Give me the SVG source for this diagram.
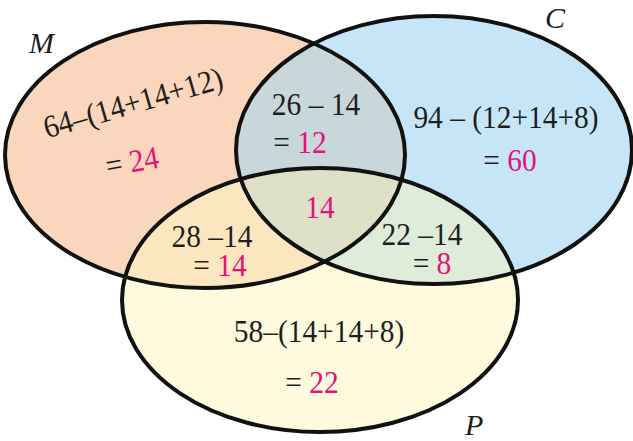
<svg xmlns="http://www.w3.org/2000/svg" width="633" height="441" viewBox="0 0 633 441">
<style>
.t{font-family:"Liberation Serif","Times New Roman",serif;font-size:32px;fill:#1e1e1e;text-anchor:middle}
.p{fill:#E2127B}
.lab{font-family:"Liberation Serif","Times New Roman",serif;font-size:30px;font-style:italic;fill:#1e1e1e}
.o{fill:none;stroke:#111;stroke-width:4}
</style>
<defs>
<ellipse id="eM" cx="205" cy="155" rx="200" ry="133"/>
<ellipse id="eC" cx="434" cy="150" rx="198" ry="134"/>
<ellipse id="eP" cx="320" cy="300" rx="198" ry="132"/>
<clipPath id="cM"><use href="#eM"/></clipPath>
<clipPath id="cC"><use href="#eC"/></clipPath>
</defs>
<rect width="633" height="441" fill="#fff"/>
<g id="fills">
<use href="#eM" fill="#F9D6BC"/>
<use href="#eC" fill="#C6E6F8"/>
<use href="#eP" fill="#FEFADE"/>
<use href="#eC" fill="#C8D7D9" clip-path="url(#cM)"/>
<use href="#eP" fill="#FCE6C0" clip-path="url(#cM)"/>
<use href="#eP" fill="#DFECDA" clip-path="url(#cC)"/>
<g clip-path="url(#cM)"><use href="#eP" fill="#DEE0C8" clip-path="url(#cC)"/></g>
</g>
<g id="outlines">
<use href="#eM" class="o"/>
<use href="#eC" class="o"/>
<use href="#eP" class="o"/>
</g>
<g id="setM">
<text class="lab" x="29" y="53">M</text>
<text class="t" transform="translate(136,113) rotate(-16) scale(0.92,1)">64–(14+14+12)</text>
<text class="t" transform="translate(134,172) rotate(-10) scale(0.92,1)">= <tspan class="p">24</tspan></text>
</g>
<g id="setC">
<text class="lab" x="545" y="28">C</text>
<text class="t" transform="translate(506,128) scale(0.92,1)">94 – (12+14+8)</text>
<text class="t" transform="translate(510,171) scale(0.92,1)">= <tspan class="p">60</tspan></text>
</g>
<g id="setP">
<text class="lab" x="465" y="435">P</text>
<text class="t" transform="translate(319,342) scale(0.92,1)">58–(14+14+8)</text>
<text class="t" transform="translate(312,393) scale(0.92,1)">= <tspan class="p">22</tspan></text>
</g>
<g id="MC">
<text class="t" transform="translate(316,115) scale(0.92,1)">26 – 14</text>
<text class="t" transform="translate(300,153) scale(0.92,1)">= <tspan class="p">12</tspan></text>
</g>
<g id="MP">
<text class="t" transform="translate(212,247) scale(0.92,1)">28 –14</text>
<text class="t" transform="translate(220,276) scale(0.92,1)">= <tspan class="p">14</tspan></text>
</g>
<g id="CP">
<text class="t" transform="translate(422,245) scale(0.92,1)">22 –14</text>
<text class="t" transform="translate(432,274) scale(0.92,1)">= <tspan class="p">8</tspan></text>
</g>
<g id="MCP">
<text class="t p" transform="translate(320,218) scale(0.92,1)">14</text>
</g>
</svg>
